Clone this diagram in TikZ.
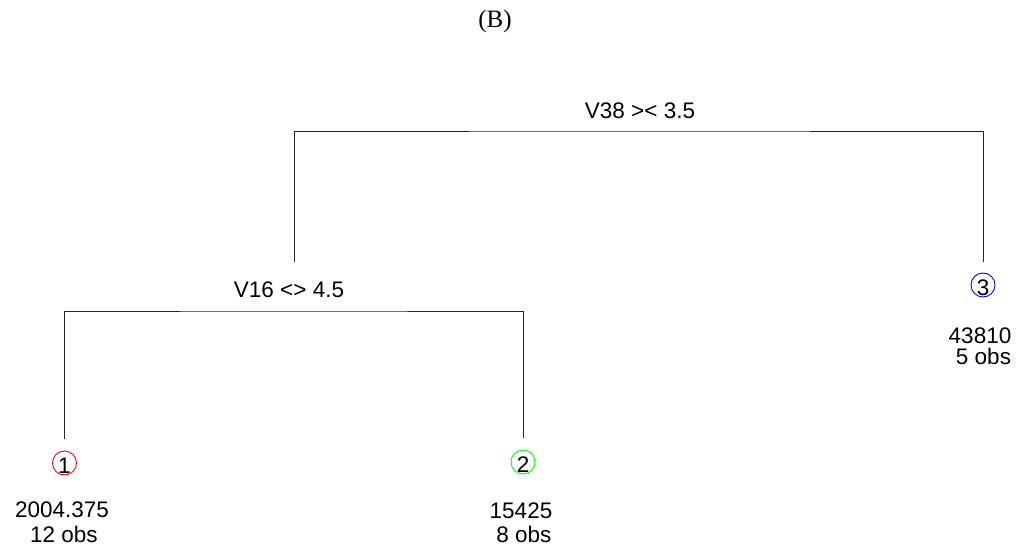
\documentclass[tikz,border=0pt]{standalone}
\usepackage{fontspec}
\setmainfont{Liberation Sans}
\newfontfamily\serifB{Liberation Serif}
\begin{document}
\begin{tikzpicture}[x=1pt,y=-1pt,
  lbl/.style={inner sep=0pt,anchor=base,font=\fontsize{22.5}{26}\selectfont},
  leaf/.style={circle,draw,line width=0.9pt,minimum size=24pt,inner sep=0pt},
  edge/.style={draw=black!85,line width=0.9pt}]
\useasboundingbox (0,0) rectangle (1019,548);
\node[inner sep=0pt,anchor=base,font=\serifB\fontsize{25}{28}\selectfont] (title) at (495,28) {(B)};
% split points
\coordinate (root) at (640,131);
\coordinate (s2) at (294,262);
\coordinate (s2h) at (294,311);
% leaves
\node[leaf,draw=red] (c1) at (64.5,463) {};
\node[leaf,draw=green] (c2) at (523,462) {};
\node[leaf,draw=blue] (c3) at (983,285) {};
\node[lbl] (d1) at (64.5,473) {1};
\node[lbl] (d2) at (523,472) {2};
\node[lbl] (d3) at (983,295) {3};
% connector ends, just above the leaf circles
\coordinate (e1) at ([yshift=12pt]c1.north);
\coordinate (e2) at ([yshift=12pt]c2.north);
\coordinate (e3) at ([yshift=11pt]c3.north);
% split labels
\node[lbl] (l1) at (640,119) {V38 >< 3.5};
\node[lbl] (l2) at (289,297) {V16 <> 4.5};
% edges
\draw[edge] (s2) |- (root) -| (e3);
\draw[edge] (e1) |- (s2h) -| (e2);
% leaf texts
\node[lbl] (v1) at (62,517) {2004.375};
\node[lbl] (o1) at (64,542) {12 obs};
\node[lbl] (v2) at (521,518) {15425};
\node[lbl] (o2) at (524,542) {8 obs};
\node[lbl] (v3) at (980,343) {43810};
\node[lbl] (o3) at (983.5,364) {5 obs};
\end{tikzpicture}
\end{document}
